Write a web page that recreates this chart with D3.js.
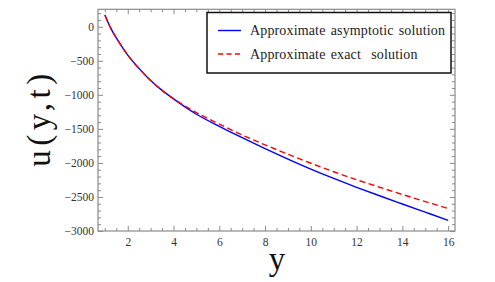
<!DOCTYPE html>
<html>
<head>
<meta charset="utf-8">
<script src="https://cdn.jsdelivr.net/npm/d3@7"></script>
<style>
  body { margin: 0; background: #fff; }
  svg text { font-family: "Liberation Serif", "DejaVu Serif", serif; }
</style>
</head>
<body>
<svg id="chart"></svg>
<script>
// values
let yValues = [1, 1.25, 1.5, 1.75, 2, 2.5, 3, 3.5, 4, 4.5, 5, 6, 7, 8, 9, 10, 11, 12, 13, 14, 15, 16];
let asymptotic = [172, -17, -165, -295, -416, -615, -790, -935, -1060, -1178, -1285, -1462, -1630, -1790, -1943, -2090, -2228, -2358, -2482, -2603, -2723, -2843];
let exact = [172, -17, -165, -295, -416, -615, -790, -935, -1057, -1165, -1262, -1430, -1590, -1735, -1872, -2005, -2130, -2247, -2357, -2464, -2568, -2671];
let xTicks = [2, 4, 6, 8, 10, 12, 14, 16];
let yTicks = [0, -500, -1000, -1500, -2000, -2500, -3000];
let legendLabels = ['Approximate asymptotic solution', 'Approximate exact\u00a0 solution'];

let width = 495, height = 282;
let margin = {top: 9.3, right: 40, bot: 51, left: 98};
let config = {
    width: width - margin.left - margin.right,
    height: height - margin.top - margin.bot,
    margin: margin
};

let svg = d3.select('#chart')
    .attr('width', width)
    .attr('height', height);

let plot = svg.append('g')
    .attr('transform', `translate(${margin.left},${margin.top})`);

let xScale = d3.scaleLinear()
    .domain([0.7, 16.3])
    .range([0, config.width]);
let yScale = d3.scaleLinear()
    .domain([-3000, 256])
    .range([config.height, 0]);

let fmt = d => d < 0 ? '\u2212' + Math.abs(d) : String(d);

// minor ticks
let xMinor = d3.range(1, 16.01, 0.5).filter(v => !xTicks.includes(v));
let yMinor = d3.range(-3000, 201, 100).filter(v => !yTicks.includes(v));

function addAxis(axis, tx, ty) {
    let g = plot.append('g')
        .attr('transform', `translate(${tx},${ty})`)
        .call(axis);
    g.select('.domain').remove();
    g.selectAll('line').attr('stroke', '#8a8a8a');
    g.selectAll('text').attr('fill', '#333').style('font-size', '11.5px');
    return g;
}

addAxis(d3.axisBottom(xScale).tickValues(xTicks).tickSize(-5).tickPadding(7).tickFormat(fmt), 0, config.height);
addAxis(d3.axisBottom(xScale).tickValues(xMinor).tickSize(-3).tickFormat(''), 0, config.height);
addAxis(d3.axisTop(xScale).tickValues(xTicks).tickSize(-5).tickFormat(''), 0, 0);
addAxis(d3.axisTop(xScale).tickValues(xMinor).tickSize(-3).tickFormat(''), 0, 0);
addAxis(d3.axisLeft(yScale).tickValues(yTicks).tickSize(-5).tickPadding(4).tickFormat(fmt), 0, 0);
addAxis(d3.axisLeft(yScale).tickValues(yMinor).tickSize(-3).tickFormat(''), 0, 0);
addAxis(d3.axisRight(yScale).tickValues(yTicks).tickSize(-5).tickFormat(''), config.width, 0);
addAxis(d3.axisRight(yScale).tickValues(yMinor).tickSize(-3).tickFormat(''), config.width, 0);

plot.append('rect')
    .attr('width', config.width)
    .attr('height', config.height)
    .attr('fill', 'none')
    .attr('stroke', '#8a8a8a')
    .attr('stroke-width', 1.2);

let line = d3.line()
    .x(d => xScale(d[0]))
    .y(d => yScale(d[1]))
    .curve(d3.curveMonotoneX);

plot.append('path')
    .datum(yValues.map((y, i) => [y, asymptotic[i]]))
    .attr('d', line)
    .attr('fill', 'none')
    .attr('stroke', '#0000ff')
    .attr('stroke-width', 1.4);

plot.append('path')
    .datum(yValues.map((y, i) => [y, exact[i]]))
    .attr('d', line)
    .attr('fill', 'none')
    .attr('stroke', '#ff0000')
    .attr('stroke-width', 1.4)
    .attr('stroke-dasharray', '6,3.5');

// legend
let legend = svg.append('g').attr('transform', 'translate(207,12.5)');
legend.append('rect')
    .attr('width', 244)
    .attr('height', 60.5)
    .attr('fill', '#fff')
    .attr('stroke', '#111')
    .attr('stroke-width', 1.5);
legendLabels.forEach((label, i) => {
    let cy = 18 + i * 23.5;
    legend.append('line')
        .attr('x1', 11).attr('x2', 34)
        .attr('y1', cy).attr('y2', cy)
        .attr('stroke', i === 0 ? '#0000ff' : '#ff0000')
        .attr('stroke-width', 1.4)
        .attr('stroke-dasharray', i === 0 ? null : '5,3.5');
    legend.append('text')
        .attr('x', 43)
        .attr('y', cy + 4.5)
        .style('font-size', '14px')
        .style('letter-spacing', '0.15px')
        .style('word-spacing', '1.5px')
        .attr('fill', '#222')
        .text(label);
});

// axis labels
svg.append('text')
    .attr('transform', 'translate(50,118) rotate(-90)')
    .attr('text-anchor', 'middle')
    .style('font-size', '33px')
    .style('letter-spacing', '4.5px')
    .attr('fill', '#111')
    .text('u(y,t)');
svg.append('text')
    .attr('x', 277)
    .attr('y', 270)
    .attr('text-anchor', 'middle')
    .style('font-size', '33px')
    .attr('fill', '#111')
    .text('y');
</script>
</body>
</html>
